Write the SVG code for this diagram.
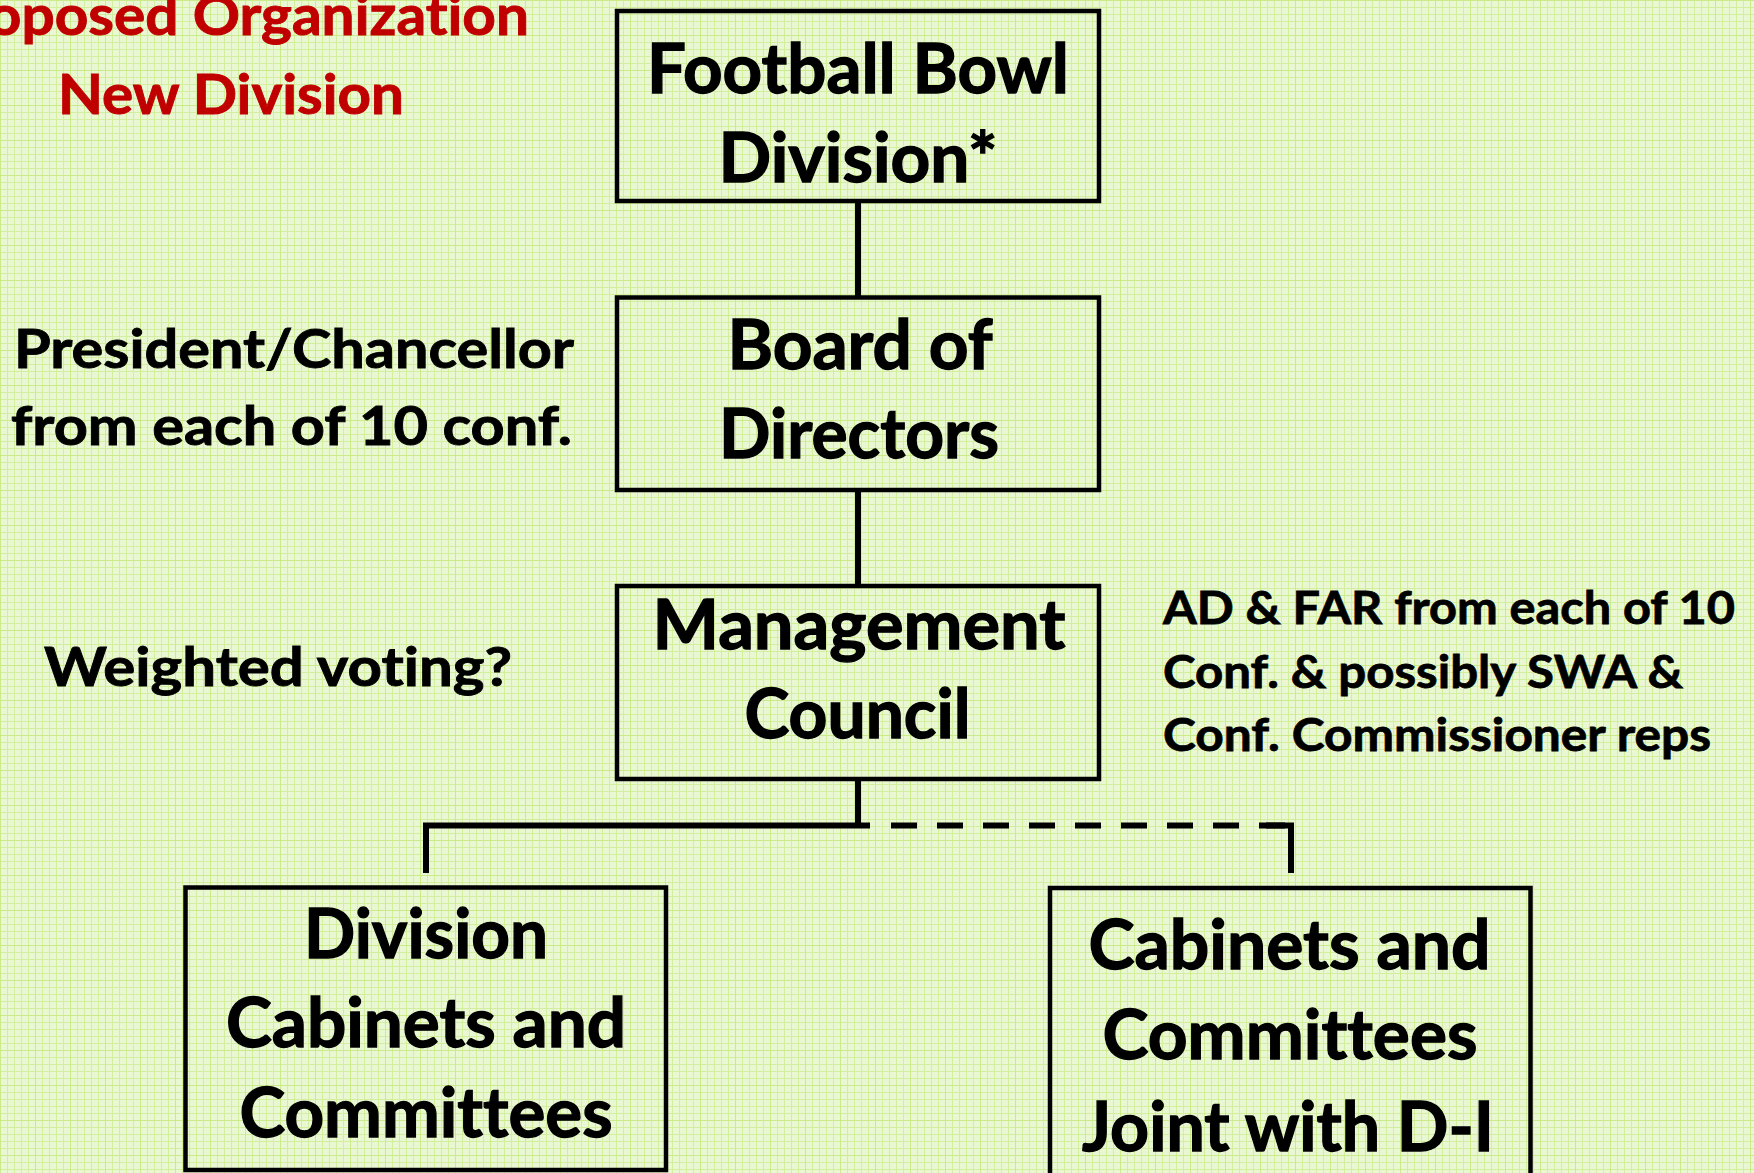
<svg xmlns="http://www.w3.org/2000/svg" width="1754" height="1173" viewBox="0 0 1754 1173">
  <defs>
    <pattern id="grid" width="7" height="7" patternUnits="userSpaceOnUse">
      <rect width="7" height="7" fill="#E9F7D3"/>
      <path d="M0 0.5H7M0.5 0V7" stroke="#D3EE9E" stroke-width="1"/>
    </pattern>
    <pattern id="gridMajor" width="35" height="35" patternUnits="userSpaceOnUse">
      <path d="M0 0.5H35M0.5 0V35" stroke="#CBEA8A" stroke-width="1"/>
    </pattern>
  </defs>
  <style>
    .box { fill: none; stroke: #000; stroke-width: 4.5; }
    .conn { fill: none; stroke: #000; stroke-width: 6; }
    .dash { stroke-dasharray: 26 20; }
    text { font-family: Lato, "Open Sans", "Liberation Sans", sans-serif; font-weight: bold; fill: #000; font-variant-ligatures: none; font-feature-settings: "liga" 0, "clig" 0; }
    .big { font-size: 68px; text-anchor: middle; stroke: #000; stroke-width: 1.3; }
    .side { font-size: 54px; stroke: #000; stroke-width: 0.9; }
    .note { font-size: 46px; stroke: #000; stroke-width: 0.8; }
    .title { font-size: 55px; fill: #C00000; stroke: #C00000; stroke-width: 0.9; text-anchor: middle; }
  </style>
  <rect width="1754" height="1173" fill="url(#grid)"/>
  <rect width="1754" height="1173" fill="url(#gridMajor)"/>

  <g id="title">
    <text class="title" x="230" y="35" textLength="598" lengthAdjust="spacingAndGlyphs">Proposed Organization</text>
    <text class="title" x="231" y="114" textLength="346" lengthAdjust="spacingAndGlyphs">New Division</text>
  </g>

  <g id="connectors">
    <line class="conn" x1="858" y1="202" x2="858" y2="297"/>
    <line class="conn" x1="858" y1="490" x2="858" y2="586"/>
    <line class="conn" x1="858" y1="779" x2="858" y2="826"/>
    <polyline class="conn" points="426,873 426,825.5 870,825.5"/>
    <line class="conn dash" x1="891" y1="825.5" x2="1292" y2="825.5"/>
    <polyline class="conn" points="1266,825.5 1291,825.5 1291,873"/>
  </g>

  <g id="node-fbs">
    <rect class="box" x="617" y="11" width="482" height="190"/>
    <text class="big" x="858" y="93" textLength="422" lengthAdjust="spacingAndGlyphs">Football Bowl</text>
    <text class="big" x="858" y="182" textLength="279" lengthAdjust="spacingAndGlyphs">Division*</text>
  </g>

  <g id="node-board">
    <rect class="box" x="617" y="297.5" width="482" height="192.5"/>
    <text class="big" x="860" y="369" textLength="265" lengthAdjust="spacingAndGlyphs">Board of</text>
    <text class="big" x="859" y="458" textLength="280" lengthAdjust="spacingAndGlyphs">Directors</text>
  </g>

  <g id="node-management">
    <rect class="box" x="617" y="586" width="482" height="193"/>
    <text class="big" x="859" y="649" textLength="413" lengthAdjust="spacingAndGlyphs">Management</text>
    <text class="big" x="857.5" y="738" textLength="226" lengthAdjust="spacingAndGlyphs">Council</text>
  </g>

  <g id="node-division-cabinets">
    <rect class="box" x="185.5" y="887.5" width="480.5" height="282.5"/>
    <text class="big" x="426" y="958" textLength="244" lengthAdjust="spacingAndGlyphs">Division</text>
    <text class="big" x="426" y="1046.5" textLength="400" lengthAdjust="spacingAndGlyphs">Cabinets and</text>
    <text class="big" x="426" y="1136.5" textLength="373" lengthAdjust="spacingAndGlyphs">Committees</text>
  </g>

  <g id="node-joint-cabinets">
    <rect class="box" x="1050" y="888" width="480.5" height="320"/>
    <text class="big" x="1289.5" y="969" textLength="402" lengthAdjust="spacingAndGlyphs">Cabinets and</text>
    <text class="big" x="1290" y="1059" textLength="375" lengthAdjust="spacingAndGlyphs">Committees</text>
    <text class="big" x="1288" y="1151" textLength="412" lengthAdjust="spacingAndGlyphs">Joint with D-I</text>
  </g>

  <g id="label-board">
    <text class="side" x="14" y="368" textLength="560" lengthAdjust="spacingAndGlyphs">President/Chancellor</text>
    <text class="side" x="11" y="445" textLength="561" lengthAdjust="spacingAndGlyphs">from each of 10 conf.</text>
  </g>

  <g id="label-voting">
    <text class="side" x="44" y="686" textLength="468" lengthAdjust="spacingAndGlyphs">Weighted voting?</text>
  </g>

  <g id="label-management">
    <text class="note" x="1163" y="624" textLength="572" lengthAdjust="spacingAndGlyphs">AD &amp; FAR from each of 10</text>
    <text class="note" x="1163" y="688" textLength="520" lengthAdjust="spacingAndGlyphs">Conf. &amp; possibly SWA &amp;</text>
    <text class="note" x="1163" y="751" textLength="548" lengthAdjust="spacingAndGlyphs">Conf. Commissioner reps</text>
  </g>
</svg>
